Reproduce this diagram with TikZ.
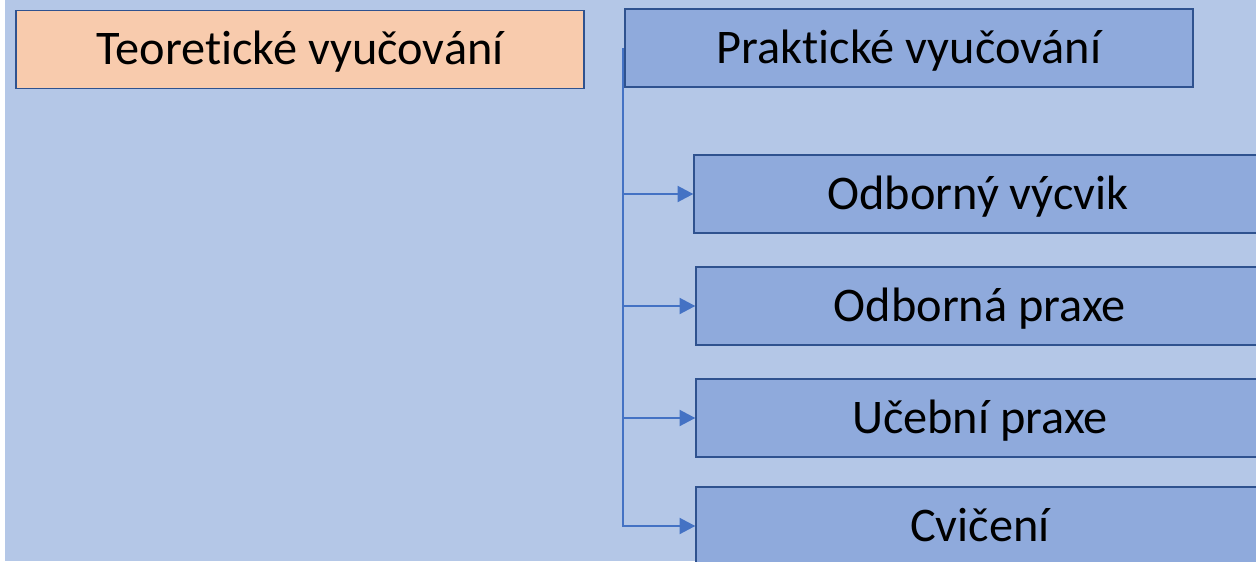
\documentclass[tikz,border=0pt]{standalone}
\usepackage{fontspec}
\setmainfont{Carlito}[Ligatures=NoCommon]
\usepackage{xcolor}
\usepackage{tikz}
\usetikzlibrary{positioning}
\usetikzlibrary{arrows.meta,shapes}
\usetikzlibrary{calc}
\definecolor{bgblue}{HTML}{B4C7E7}
\definecolor{boxblue}{HTML}{8FAADC}
\definecolor{boxpeach}{HTML}{F8CBAD}
\definecolor{edgeblue}{HTML}{2F528F}
\definecolor{linkblue}{HTML}{4472C4}
\tikzstyle{block}=[rectangle,draw=edgeblue,line width=0.8pt,minimum width=11.36cm,minimum height=1.56cm,inner sep=0pt,text height=23.6pt,text depth=6pt,font=\fontsize{27.5}{33}\selectfont]
\tikzstyle{theorybox}=[block,fill=boxpeach]
\tikzstyle{subbox}=[block,fill=boxblue]
\tikzstyle{link} = [draw,linkblue,line width=1.5pt,-{Triangle[length=9pt,width=9pt]}]

\begin{document}
\begin{tikzpicture}[x=0.02cm,y=-0.02cm]

 \useasboundingbox (0,0) rectangle (1256,561);
 \clip (0,0) rectangle (1256,561);
 \fill[bgblue] (5,0) rectangle (1256,561);

 %Teoretické
 \node[theorybox] (teor) at (300,49.5) {Teoretické vyučování};

 %Praktické
 \node[subbox] (prak) at (909,48) {Praktické vyučování};
 \coordinate (spine) at (623,48);

   \foreach \x/\y/\name/\label in {978/194/odb/{Odborný výcvik}, 980/306/praxe/{Odborná praxe}, 980/418/uceb/{Učební praxe}, 980/526/cvic/{Cvičení}}
          \node[subbox] (\name) at (\x, \y) {\label};

   \foreach \dest in {odb,praxe,uceb,cvic}
         \path[link] (spine) |- (\dest.west);

\end{tikzpicture}
\end{document}
